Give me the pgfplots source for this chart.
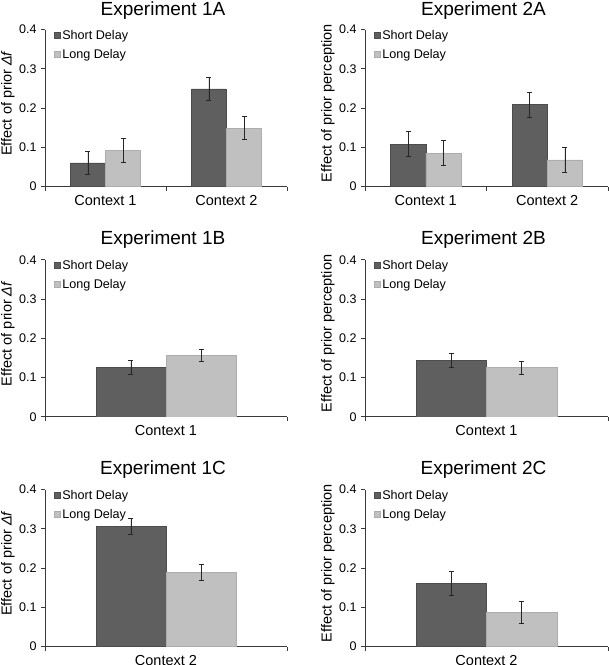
\documentclass[border=0pt]{standalone}
\usepackage{pgfplots}
\pgfplotsset{compat=1.18}
\usepackage{fontspec}
\setmainfont{Liberation Sans}
\definecolor{darkbar}{HTML}{5F5F5F}
\definecolor{lightbar}{HTML}{C0C0C0}
\definecolor{axisgray}{HTML}{3A3A3A}
\pgfplotsset{
  panel/.style={
    scale only axis, width=242pt, height=157pt, anchor=south west,
    ybar=0pt, bar width=0.29,
    ymin=0, ymax=0.4,
    ytick={0,0.1,0.2,0.3,0.4}, yticklabels={0,0.1,0.2,0.3,0.4},
    axis lines*=left, axis line style={axisgray, line width=0.6pt, -},
    tick align=outside, major tick length=4pt, minor tick length=4pt,
    tick style={axisgray, line width=0.6pt},
    major x tick style={draw=none},
    /pgf/number format/assume math mode=true,
    yticklabel style={font=\fontsize{12.5}{14}\selectfont, xshift=-1pt},
    xticklabel style={font=\fontsize{14.5}{17}\selectfont, anchor=base, yshift=-15pt},
    ylabel style={font=\fontsize{14.5}{17}\selectfont, at={(axis description cs:0,0.53)}, anchor=center, yshift=37pt},
    title style={font=\fontsize{19}{22}\selectfont, at={(axis description cs:0.5,1)}, anchor=base, yshift=9.5pt, xshift=-3pt},
    legend style={at={(axis description cs:0.037,1.01)}, anchor=north west, draw=none, fill=none,
      font=\fontsize{12.6}{15}\selectfont, row sep=4.5pt, inner sep=0pt, outer sep=0pt,
      /tikz/every even column/.append style={column sep=0pt}},
    legend cell align=left,
    legend image code/.code={\fill[#1] (1pt,-3pt) rectangle (7pt,3pt);},
    error bars/y dir=both, error bars/y explicit,
    error bars/error bar style={black!85, line width=0.7pt},
    error bars/error mark options={rotate=90, mark size=2.5pt, black!85, line width=0.7pt},
  },
  two/.style={xmin=0.5, xmax=2.5, xtick={1,2}, xticklabels={Context 1, Context 2}, minor xtick={0.5,1.5,2.5}},
  one/.style={xmin=0.5, xmax=1.5, xtick={1}, minor xtick={0.5,1.5}},
  sd/.style={fill=darkbar, draw=darkbar!80!black, line width=0.3pt},
  ld/.style={fill=lightbar, draw=lightbar!90!black, line width=0.3pt},
}
\begin{document}
\begin{tikzpicture}
\useasboundingbox (0,0) rectangle (609pt,-665pt);
% Experiment 1A
\begin{axis}[panel, two, at={(45pt,-186.5pt)}, title={Experiment 1A}, ylabel={Effect of prior \textit{Δf}}, title style={yshift=-1.5pt}]
\addplot[sd] coordinates {(1,0.060) +- (0,0.030) (2,0.249) +- (0,0.030)};
\addplot[ld] coordinates {(1,0.092) +- (0,0.031) (2,0.149) +- (0,0.030)};
\legend{Short Delay, Long Delay}
\end{axis}
% Experiment 2A
\begin{axis}[panel, two, at={(365pt,-186.5pt)}, title={Experiment 2A}, ylabel={Effect of prior perception}, width=243pt, title style={yshift=-1.5pt}]
\addplot[sd] coordinates {(1,0.108) +- (0,0.032) (2,0.209) +- (0,0.032)};
\addplot[ld] coordinates {(1,0.085) +- (0,0.032) (2,0.068) +- (0,0.033)};
\legend{Short Delay, Long Delay}
\end{axis}
% Experiment 1B
\begin{axis}[panel, one, at={(45pt,-416.7pt)}, title={Experiment 1B}, ylabel={Effect of prior \textit{Δf}}, xticklabels={Context 1}]
\addplot[sd] coordinates {(1,0.126) +- (0,0.017)};
\addplot[ld] coordinates {(1,0.156) +- (0,0.016)};
\legend{Short Delay, Long Delay}
\end{axis}
% Experiment 2B
\begin{axis}[panel, one, at={(365pt,-416.7pt)}, title={Experiment 2B}, ylabel={Effect of prior perception}, width=243pt, xticklabels={Context 1}]
\addplot[sd] coordinates {(1,0.144) +- (0,0.017)};
\addplot[ld] coordinates {(1,0.125) +- (0,0.017)};
\legend{Short Delay, Long Delay}
\end{axis}
% Experiment 1C
\begin{axis}[panel, one, at={(45pt,-646.5pt)}, title={Experiment 1C}, ylabel={Effect of prior \textit{Δf}}, xticklabels={Context 2}]
\addplot[sd] coordinates {(1,0.306) +- (0,0.021)};
\addplot[ld] coordinates {(1,0.189) +- (0,0.021)};
\legend{Short Delay, Long Delay}
\end{axis}
% Experiment 2C
\begin{axis}[panel, one, at={(365pt,-646.5pt)}, title={Experiment 2C}, ylabel={Effect of prior perception}, width=243pt, xticklabels={Context 2}]
\addplot[sd] coordinates {(1,0.161) +- (0,0.030)};
\addplot[ld] coordinates {(1,0.087) +- (0,0.029)};
\legend{Short Delay, Long Delay}
\end{axis}
\end{tikzpicture}
\end{document}
